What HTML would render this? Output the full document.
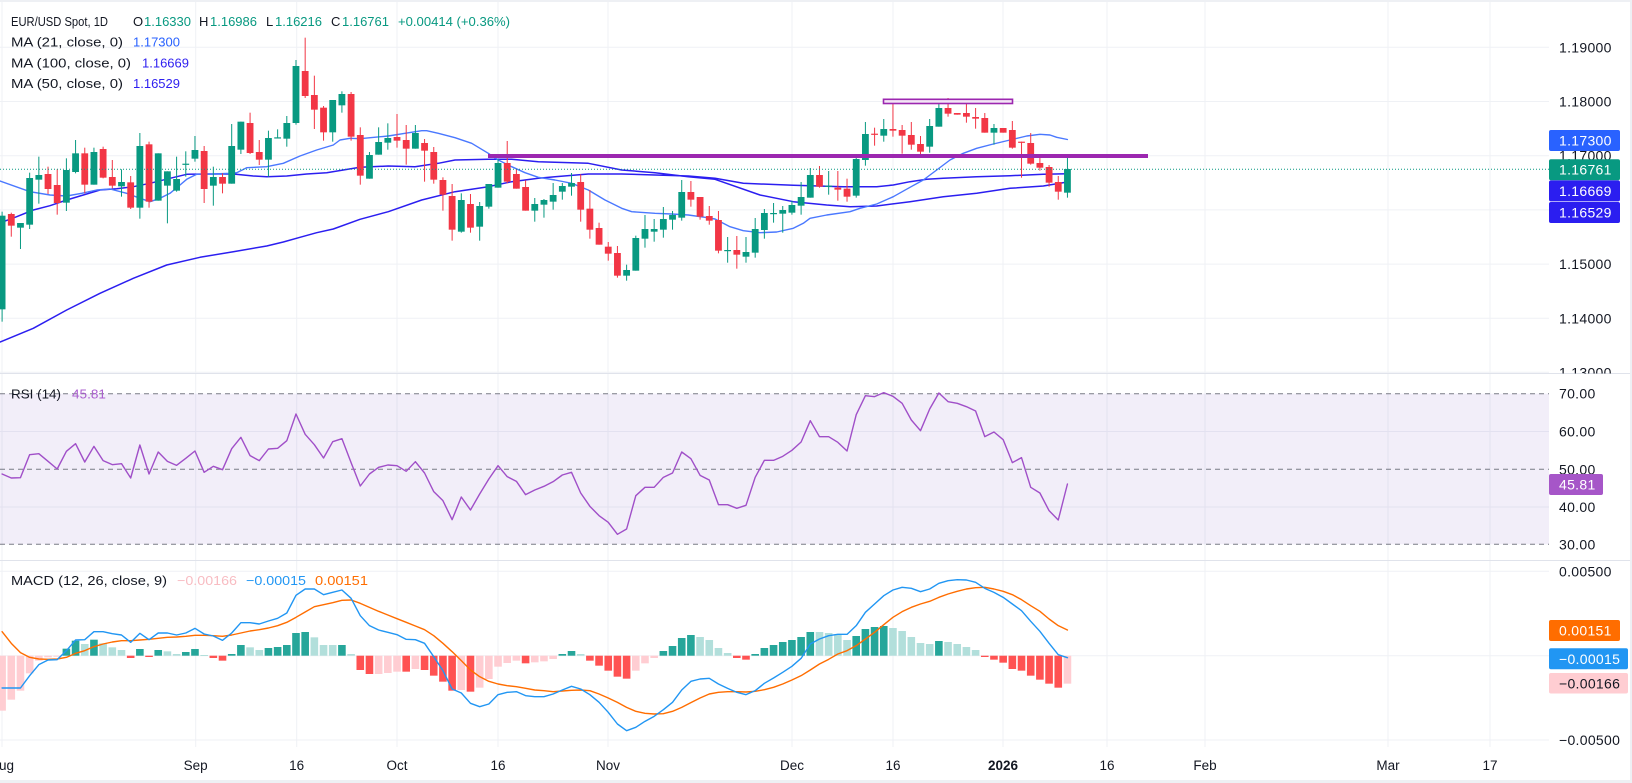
<!DOCTYPE html>
<html><head><meta charset="utf-8">
<style>
html,body{margin:0;padding:0;background:#eef0f4;overflow:hidden;}
svg{display:block;font-family:"Liberation Sans",Arial,sans-serif;}
.ax{font-size:14px;letter-spacing:0.3px;fill:#131722;}
.tl{font-size:13.5px;fill:#131722;}
.lg{font-size:13px;fill:#131722;}
</style></head>
<body>
<svg width="1632" height="783" viewBox="0 0 1632 783">
<defs>
<clipPath id="cm"><rect x="0" y="2" width="1549" height="371.5"/></clipPath>
<clipPath id="cma"><rect x="1549" y="2" width="83" height="371.5"/></clipPath>
<clipPath id="cr"><rect x="0" y="374" width="1549" height="186"/></clipPath>
<clipPath id="cd"><rect x="0" y="561" width="1549" height="186"/></clipPath>
</defs>
<rect x="0" y="2" width="1630" height="778" fill="#ffffff"/>
<!-- grid -->
<g stroke="#eff1f5" stroke-width="1">
<line x1="2" x2="2" y1="2" y2="747"/>
<line x1="195.7" x2="195.7" y1="2" y2="747"/>
<line x1="296.7" x2="296.7" y1="2" y2="747"/>
<line x1="397" x2="397" y1="2" y2="747"/>
<line x1="498" x2="498" y1="2" y2="747"/>
<line x1="608" x2="608" y1="2" y2="747"/>
<line x1="792" x2="792" y1="2" y2="747"/>
<line x1="893" x2="893" y1="2" y2="747"/>
<line x1="1003" x2="1003" y1="2" y2="747"/>
<line x1="1107" x2="1107" y1="2" y2="747"/>
<line x1="1205" x2="1205" y1="2" y2="747"/>
<line x1="1388" x2="1388" y1="2" y2="747"/>
<line x1="1490" x2="1490" y1="2" y2="747"/>
<line x1="0" x2="1549" y1="47.3" y2="47.3"/>
<line x1="0" x2="1549" y1="101.5" y2="101.5"/>
<line x1="0" x2="1549" y1="155.7" y2="155.7"/>
<line x1="0" x2="1549" y1="209.9" y2="209.9"/>
<line x1="0" x2="1549" y1="264.1" y2="264.1"/>
<line x1="0" x2="1549" y1="318.3" y2="318.3"/>
<line x1="0" x2="1549" y1="372.3" y2="372.3"/>
<line x1="0" x2="1549" y1="431.5" y2="431.5"/>
<line x1="0" x2="1549" y1="507" y2="507"/>
<line x1="0" x2="1549" y1="571.3" y2="571.3"/>
<line x1="0" x2="1549" y1="655.7" y2="655.7"/>
<line x1="0" x2="1549" y1="740" y2="740"/>
</g>
<!-- RSI band -->
<rect x="0" y="393.7" width="1549" height="150.6" fill="#7e57c2" fill-opacity="0.1"/>
<g stroke="#787b86" stroke-width="1" stroke-dasharray="5 4">
<line x1="0" x2="1549" y1="393.7" y2="393.7"/>
<line x1="0" x2="1549" y1="469.3" y2="469.3"/>
<line x1="0" x2="1549" y1="544.3" y2="544.3"/>
</g>
<!-- pane separators -->
<line x1="0" x2="1630" y1="373.5" y2="373.5" stroke="#e0e3eb" stroke-width="1"/>
<line x1="0" x2="1630" y1="560.5" y2="560.5" stroke="#e0e3eb" stroke-width="1"/>

<g id="dyn"></g>

<!-- close dotted line -->
<line x1="0" x2="1549" y1="169.3" y2="169.3" stroke="#089981" stroke-width="1" stroke-dasharray="1 2"/>
<!-- purple drawings -->
<line x1="488" x2="1148" y1="156" y2="156" stroke="#9c27b0" stroke-width="4"/>
<rect x="883.5" y="99.3" width="129" height="4.2" fill="#f3e5f5" stroke="#9c27b0" stroke-width="1.6"/>

<!-- legends -->
<text class="lg" x="11" y="26" textLength="97" lengthAdjust="spacingAndGlyphs">EUR/USD Spot, 1D</text>
<text class="lg" x="133" y="26">O</text><text class="lg" x="144" y="26" style="fill:#089981">1.16330</text>
<text class="lg" x="199" y="26">H</text><text class="lg" x="210" y="26" style="fill:#089981">1.16986</text>
<text class="lg" x="266" y="26">L</text><text class="lg" x="275" y="26" style="fill:#089981">1.16216</text>
<text class="lg" x="331" y="26">C</text><text class="lg" x="342" y="26" style="fill:#089981">1.16761</text>
<text class="lg" x="398" y="26" style="fill:#089981" textLength="112" lengthAdjust="spacingAndGlyphs">+0.00414 (+0.36%)</text>
<text class="lg" x="11" y="46.5" textLength="112" lengthAdjust="spacingAndGlyphs">MA (21, close, 0)</text>
<text class="lg" x="133" y="46.5" style="fill:#2962ff">1.17300</text>
<text class="lg" x="11" y="67.5" textLength="120" lengthAdjust="spacingAndGlyphs">MA (100, close, 0)</text>
<text class="lg" x="142" y="67.5" style="fill:#2e1ff0">1.16669</text>
<text class="lg" x="11" y="88" textLength="112" lengthAdjust="spacingAndGlyphs">MA (50, close, 0)</text>
<text class="lg" x="133" y="88" style="fill:#2e1ff0">1.16529</text>

<text class="lg" x="11" y="398.5" textLength="50" lengthAdjust="spacingAndGlyphs">RSI (14)</text>
<text class="lg" x="72" y="398.5" style="fill:#ab5fcf" textLength="34" lengthAdjust="spacingAndGlyphs">45.81</text>

<text class="lg" x="11" y="585" textLength="156" lengthAdjust="spacingAndGlyphs">MACD (12, 26, close, 9)</text>
<text class="lg" x="177" y="585" style="fill:#f8bcc2" textLength="60" lengthAdjust="spacingAndGlyphs">−0.00166</text>
<text class="lg" x="246" y="585" style="fill:#2196f3" textLength="60" lengthAdjust="spacingAndGlyphs">−0.00015</text>
<text class="lg" x="315" y="585" style="fill:#ff6d00" textLength="53" lengthAdjust="spacingAndGlyphs">0.00151</text>

<!-- price axis -->
<text class="ax" x="1559" y="52.3">1.19000</text>
<text class="ax" x="1559" y="106.5">1.18000</text>
<text class="ax" x="1559" y="160.7">1.17000</text>
<text class="ax" x="1559" y="214.9">1.16000</text>
<text class="ax" x="1559" y="269.1">1.15000</text>
<text class="ax" x="1559" y="323.3">1.14000</text>
<g clip-path="url(#cma)"><text class="ax" x="1559" y="377.3">1.13000</text></g>

<rect x="1549" y="130" width="71" height="21" rx="2" fill="#2962ff"/>
<text class="ax" x="1559" y="145.5" style="fill:#fff">1.17300</text>
<rect x="1549" y="159.2" width="71" height="21" rx="2" fill="#089981"/>
<text class="ax" x="1559" y="174.7" style="fill:#fff">1.16761</text>
<rect x="1549" y="180.4" width="71" height="21" rx="2" fill="#2b1ef0"/>
<text class="ax" x="1559" y="195.9" style="fill:#fff">1.16669</text>
<rect x="1549" y="202" width="71" height="21" rx="2" fill="#2b1ef0"/>
<text class="ax" x="1559" y="217.5" style="fill:#fff">1.16529</text>

<!-- RSI axis -->
<text class="ax" x="1559" y="398.7">70.00</text>
<text class="ax" x="1559" y="436.5">60.00</text>
<text class="ax" x="1559" y="474.3">50.00</text>
<text class="ax" x="1559" y="512">40.00</text>
<text class="ax" x="1559" y="549.3">30.00</text>
<rect x="1549" y="474" width="54" height="21" rx="2" fill="#a656c8"/>
<text class="ax" x="1559" y="489.5" style="fill:#fff">45.81</text>

<!-- MACD axis -->
<text class="ax" x="1559" y="576.3">0.00500</text>
<text class="ax" x="1559" y="745">−0.00500</text>
<rect x="1549" y="620" width="71" height="21" rx="2" fill="#ff6d00"/>
<text class="ax" x="1559" y="635.5" style="fill:#fff">0.00151</text>
<rect x="1549" y="648.3" width="79" height="21" rx="2" fill="#2196f3"/>
<text class="ax" x="1559" y="663.8" style="fill:#fff">−0.00015</text>
<rect x="1549" y="673" width="79" height="20.5" rx="2" fill="#ffcdd2"/>
<text class="ax" x="1559" y="688.3">−0.00166</text>

<!-- time axis -->
<text class="tl" x="2" y="770" text-anchor="middle">Aug</text>
<text class="tl" x="195.7" y="770" text-anchor="middle">Sep</text>
<text class="tl" x="296.7" y="770" text-anchor="middle">16</text>
<text class="tl" x="397" y="770" text-anchor="middle">Oct</text>
<text class="tl" x="498" y="770" text-anchor="middle">16</text>
<text class="tl" x="608" y="770" text-anchor="middle">Nov</text>
<text class="tl" x="792" y="770" text-anchor="middle">Dec</text>
<text class="tl" x="893" y="770" text-anchor="middle">16</text>
<text class="tl" x="1003" y="770" text-anchor="middle" font-weight="bold">2026</text>
<text class="tl" x="1107" y="770" text-anchor="middle">16</text>
<text class="tl" x="1205" y="770" text-anchor="middle">Feb</text>
<text class="tl" x="1388" y="770" text-anchor="middle">Mar</text>
<text class="tl" x="1490" y="770" text-anchor="middle">17</text>
</svg>
<script>
(function(){
var X=function(i){return 2.1+9.184*i;};
var C8=[['G',557,838,545,875],['R',552,587,548,620],['G',579,593,579,657],['G',444,584,428,597],['G',435,449,380,521],['R',432,477,410,492],['R',465,519,418,554],['G',420,518,385,543],['G',370,426,330,430],['R',370,464,353,490],
['G',366,464,353,464],['R',357,443,350,445],['R',441,467,390,475],['G',456,469,418,500],['R',457,533,438,537],['G',348,533,309,566],['R',343,515,335,533],['G',370,512,370,512],['G',424,467,424,580],['G',447,482,380,485],
['G',401,403,364,440],['G',360,386,318,395],['R',363,477,348,519],['G',441,467,410,527],['R',441,461,430,490],['G',348,461,282,461],['G',275,359,275,372],['R',279,369,248,372],['R',366,389,330,405],['G',324,389,302,440],
['G',322,324,298,325],['G',279,326,258,350],['G',108,279,90,284],['R',123,198,23,204],['R',195,239,137,297],['R',233,307,228,332],['G',210,307,210,335],['G',192,226,184,248],['R',192,320,186,332]];
var C9=[['R',105,227,82,254],['G',165,236,156,236],['G',126,164,82,164],['G',114,128,70,149],['R',111,122,42,143],['R',120,146,75,194],['G',99,146,75,146],['R',129,152,117,245],['R',156,239,141,251],['R',240,284,232,332],
['R',288,389,252,422],['G',300,395,280,398],['R',312,383,282,398],['G',318,380,306,422],['G',252,320,252,326],['G',189,263,177,263],['R',189,245,123,250],['R',222,266,208,266],['R',261,332,241,332],['G',312,332,294,365],
['G',300,314,297,353],['G',285,305,249,329],['G',258,275,249,299],['G',249,260,219,287],['R',246,329,223,365],['R',326,389,270,416],['R',384,434,368,434],['R',440,461,426,482],['R',459,527,438,533],['G',510,527,494,542],
['G',414,512,407,512],['G',387,416,345,443],['G',387,395,357,425],['G',357,389,321,413],['G',345,359,333,389],['G',276,353,240,362],['R',276,299,243,320],['R',291,350,291,359],['R',348,362,318,374]];
var C10=[['R',420,512,393,520],['G',510,512,471,548],['R',510,524,468,566],['G',516,530,471,548],['G',447,518,414,533],['G',399,450,387,476],['G',399,401,369,428],['G',390,401,378,458],['G',375,398,363,404],['G',351,377,306,404],
['G',285,353,264,353],['R',285,320,258,323],['G',317,319,273,344],['R',323,329,273,362],['R',326,350,296,365],['G',237,347,228,353],['G',162,240,126,257],['R',161,163,143,197],['G',147,167,117,185],['R',147,152,60,170],
['R',150,167,135,221],['R',165,194,126,209],['R',192,215,168,224],['G',138,200,117,218],['G',84,140,63,140],['R',84,101,54,110],['R',99,104,99,104],['R',99,110,72,128],['R',111,116,84,146],['R',114,158,99,158],
['G',144,158,132,194],['R',144,158,144,158],['R',150,203,123,206],['R',185,188,185,293],['R',189,251,159,254],['R',249,263,224,272],['R',261,308,255,320],['R',306,335,288,359],['G',267,338,233,353]];
var s='';
function f(v){return Math.round(v*100)/100;}
function pl(pts,col,w){var p=pts.map(function(q){return f(q[0])+','+f(q[1]);}).join(' ');return '<polyline points="'+p+'" fill="none" stroke="'+col+'" stroke-width="'+w+'" stroke-linejoin="round" stroke-linecap="round"/>';}
// main pane
s+='<g clip-path="url(#cm)">';
var MA100=[[0,342],[6.7,339.3],[33.3,328.3],[66.7,310],[100,293.3],[133.3,278.3],[166.7,265],[200,257.3],[233.3,251.7],[266.7,246],[283.3,242],[300,237.3],[316.7,232.7],[333.3,229],[360,219.3],[388.3,211.7],[421.7,200],[455,191.7],[488.3,186.7],[511.7,181.7],[538.3,178.3],[555,176.7],[588.3,174],[621.7,174],[655,175],[688.3,176],[715,178.3],[743.3,183.3],[793.3,185.3],[843.3,186.7],[876.7,186.7],[893.3,185],[910,181.7],[926.7,179.3],[943.3,178.3],[976.7,176.7],[1010,175.7],[1043.3,174.3],[1067.4,173.8]];
var MA50=[[0,222.5],[3.3,221.7],[16.7,216.7],[33.3,210],[50,205.7],[66.7,200],[83.3,195],[100,190],[116.7,188.7],[133.3,186.7],[150,183.3],[170,178.3],[186.7,174.3],[206.7,174],[233.3,174],[253.3,176],[266.7,176.7],[286.7,176],[306.7,174],[326.7,172.7],[343.3,170],[360,167.3],[388.3,166],[415,166.7],[438.3,163.3],[455,160],[488.3,159.3],[511.7,159.3],[538.3,161.7],[588.3,163.3],[621.7,170],[655,172.7],[688.3,176.7],[715,179.3],[760,195],[793.3,201.7],[826.7,205],[850,206.7],[876.7,206],[910,201.7],[943.3,196.7],[976.7,193.3],[1010,188.3],[1043.3,186],[1067.4,182]];
var MA21=[[0,181],[30,191.7],[50,195],[66.7,196],[81.7,193.3],[96.7,190],[110,189],[126.7,193.3],[140,198.3],[150,201.7],[160,198.3],[170,193.3],[180,185],[186.7,179.3],[196.7,174.3],[213.3,174],[230,173.3],[236.7,172.7],[246.7,167.7],[266.7,166.7],[283.3,163.3],[300,156],[316.7,150],[333.3,145],[340,140],[350,138.3],[360,138.7],[388.3,136],[405,133.3],[421.7,130.7],[426.7,130.7],[438.3,133.3],[455,137.7],[471.7,143.3],[488.3,153.3],[498.3,160],[511.7,166.7],[525,172.7],[538.3,177.3],[555,180],[571.7,183.3],[588.3,190],[605,200],[621.7,208.3],[631.7,211.7],[655,213.3],[671.7,214],[688.3,215],[705,217.3],[715,219],[730,226.7],[743.3,230.7],[760,232.7],[776.7,232],[793.3,228.3],[803.3,223.3],[810,218.3],[826.7,215],[850,211.7],[860,208.3],[876.7,204],[893.3,196.7],[910,187.3],[923.3,180],[936.7,170],[950,160],[963.3,153.3],[976.7,148.3],[993.3,144],[1010,140],[1026.7,136],[1040,134.3],[1050,135],[1056.7,137.3],[1067.4,139.5]];
s+=pl(MA100,'#2b1ef0',1.5);
s+=pl(MA50,'#2b1ef0',1.5);
s+=pl(MA21,'#4a78ff',1.4);
function cand(list,start,off){
  list.forEach(function(c,k){
    var x=X(start+k);var col=c[0]=='G'?'#089981':'#f23645';
    var bt=off+c[1]/3,bb=off+c[2]/3,wt=off+c[3]/3,wb=off+c[4]/3;
    s+='<rect x="'+f(x-0.5)+'" y="'+f(wt)+'" width="1" height="'+f(Math.max(wb-wt,1))+'" fill="'+col+'"/>';
    s+='<rect x="'+f(x-3.4)+'" y="'+f(bt)+'" width="6.8" height="'+f(Math.max(bb-bt,1.2))+'" fill="'+col+'"/>';
  });
}
cand(C8,0,30);cand(C9,39,100);cand(C10,78,80);
s+='</g>';
// RSI
var R=[300,312,311,242,239,262,285,232,209,264,217,260,272,269,312,213,300,234,262,274,253,231,295,277,287,224,190,245,260,225,223,200,120,181,212,252,203,194,266,336,300,280,273,275,292,263,297,353,380,437,369,408,360,315,275,308,322,362,348,337,323,303,295,357,397,425,445,481,465,365,340,340,310,297,234,254,304,318,392,392,403,394,310,259,259,247,229,204,140,188,188,205,231,122,65,68,56,67,88,138,170,105,57,83,88,98,111,188,174,197,266,251,340,357,410,438,330];
s+='<g clip-path="url(#cr)">'+pl(R.map(function(v,i){return [X(i),374+v/3];}),'#a04fc8',1.4)+'</g>';
// MACD
var MB=[942,942,942,905,872,858,857,830,798,797,773,773,779,783,805,778,797,777,777,783,777,763,780,786,799,777,746,746,750,741,733,717,664,645,645,662,655,648,673,725,755,768,775,782,796,797,808,848,890,945,957,988,998,990,962,955,953,965,968,
968,960,948,937,945,962,985,1015,1050,1070,1060,1042,1027,1007,985,948,922,915,913,930,943,955,962,950,928,912,895,877,853,810,795,785,781,781,755,715,690,665,648,640,643,653,645,628,620,617,618,625,643,655,670,690,710,742,772,808,842,851];
var MO=[773,808,836,850,855,856,855,850,838,830,818,810,804,800,800,798,796,793,790,789,787,784,784,785,787,783,777,771,767,762,755,745,730,714,698,692,686,679,678,688,700,712,723,734,745,756,767,785,808,833,860,888,908,922,930,935,938,943,948,
950,953,951,949,948,950,960,972,985,1000,1012,1018,1020,1019,1012,1000,986,972,960,955,953,953,954,952,947,940,930,918,905,888,870,856,840,830,815,795,775,752,730,713,700,690,682,670,660,652,645,641,640,645,652,662,677,695,712,735,755,768];
var H=['a1010','a977','a950','a898','a860','a850','a848','t824','t800','p810','t797','p808','p820','p828','r852','t825','r849','t828','p832','p840','t834','t825','p843','r852','r860','t840','t813','p820','p828','t822','t819','t813','t777','t774','p790','p813','p813','t813','p840','r888','r900','a900','a897','a893','r893','a885','r888','r905','r923','r950','a948','r953','a941','a915','a878','a867','a860','r868','a865',
'a862','a855','t840','t831','p840','r860','r875','r890','r908','r914','a890','a868','a852','t831','t816','t792','t783','p789','p798','p822','p837','r852','r857','t840','t822','t813','t804','t798','t789','t774','p774','p777','p783','p798','t786','t765','t759','t756','p762','p771','p789','p807','p810','t801','p804','p810','p819','p828','r849','r857','r866','r885','r890','r905','r917','r929','r941','a929'];
var HC={a:'#ffcdd2',r:'#ff5252',t:'#26a69a',p:'#b2dfdb'};
s+='<g clip-path="url(#cd)">';
var z=655.7;
H.forEach(function(h,i){
  var col=HC[h.charAt(0)];var v=374+parseFloat(h.substring(1))/3;
  var y0=Math.min(z,v),y1=Math.max(z,v);
  s+='<rect x="'+f(X(i)-3.8)+'" y="'+f(y0)+'" width="7.6" height="'+f(Math.max(y1-y0,1))+'" fill="'+col+'"/>';
});
s+=pl(MO.map(function(v,i){return [X(i),374+v/3];}),'#ff6d00',1.4);
s+=pl(MB.map(function(v,i){return [X(i),374+v/3];}),'#2196f3',1.4);
s+='</g>';
document.getElementById('dyn').innerHTML=s;
})();
</script>
</body></html>
